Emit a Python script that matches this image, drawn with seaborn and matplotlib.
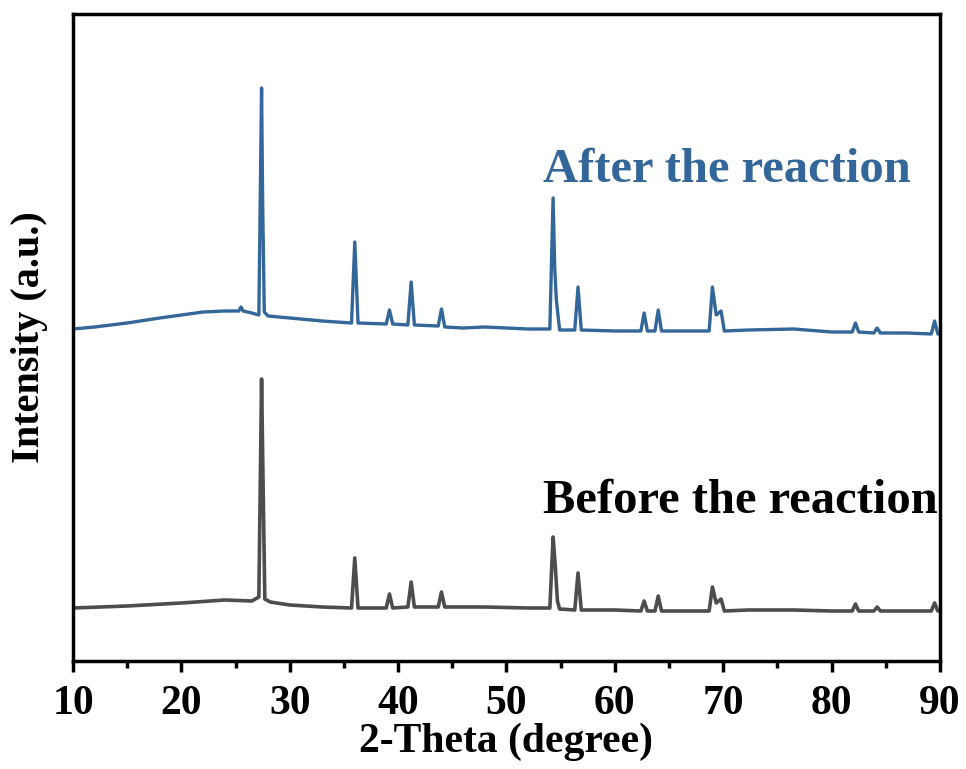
import matplotlib
matplotlib.use("Agg")
import matplotlib.pyplot as plt
import seaborn as sns
import pandas as pd
from matplotlib.ticker import MultipleLocator

# 2-theta positions (degree) and intensities (a.u.)
after_x = [10, 12, 15, 18, 20, 22, 24, 25.3, 25.5, 25.7, 26.5, 27.15, 27.4, 27.5, 27.65, 28.0,
           30, 33, 35.7, 36.0, 36.3, 38.9, 39.2, 39.5, 40.9, 41.2, 41.5, 43.7, 44.0, 44.3,
           46, 48, 50, 52, 54.0, 54.3, 54.45, 54.6, 54.9, 56.3, 56.6, 56.9, 60, 62.4, 62.7,
           63.0, 63.7, 64.0, 64.3, 66, 68.7, 69.0, 69.35, 69.8, 70.1, 72.3, 76.5, 80, 81.9,
           82.2, 82.5, 83.9, 84.2, 84.5, 87, 89.2, 89.5, 89.8, 90]
after_y = [332, 334, 338, 343, 346, 349, 350, 350, 354, 350, 348, 346, 573, 458, 349, 345,
           343, 340, 338, 419, 338, 337, 351, 337, 336, 379, 336, 335, 352, 334,
           333, 334, 333, 332, 332, 463, 393, 361, 331, 331, 374, 331, 330, 330, 348,
           330, 330, 351, 330, 330, 330, 374, 346, 350, 330, 331, 332, 329, 329,
           338, 329, 328, 333, 328, 328, 327, 340, 327, 327]

before_x = [10, 15, 20, 24, 26.5, 27.15, 27.4, 27.55, 27.7, 28.2, 30, 33, 35.7, 36.0, 36.3,
            38.9, 39.2, 39.5, 40.9, 41.2, 41.5, 43.7, 44.0, 44.3, 48, 52, 54.0, 54.3, 54.5,
            54.7, 54.9, 56.3, 56.6, 56.9, 60, 62.4, 62.7, 63.0, 63.7, 64.0, 64.3, 66, 68.7,
            69.0, 69.35, 69.8, 70.1, 72.3, 76.5, 80, 81.9, 82.2, 82.5, 83.9, 84.2, 84.5, 87,
            89.2, 89.5, 89.8, 90]
before_y = [53, 55, 58, 61, 60, 64, 282, 170, 62, 59, 56, 54, 53, 103, 53,
            53, 67, 53, 54, 79, 54, 54, 69, 54, 54, 53, 53, 124, 95,
            60, 52, 51, 88, 51, 51, 50, 60, 50, 50, 65, 50, 50, 50,
            74, 58, 62, 50, 51, 51, 50, 50, 57, 50, 50, 54, 50, 50,
            50, 58, 50, 50]

x_ticks = [10, 20, 30, 40, 50, 60, 70, 80, 90]
label_after = "After the reaction"
label_before = "Before the reaction"

BLUE = "#336699"
GRAY = "#4d4d4d"

sns.set_theme(style="white")
plt.rcParams["font.family"] = ["Liberation Serif", "DejaVu Serif"]
plt.rcParams["font.weight"] = "bold"
plt.rcParams["text.color"] = "black"
plt.rcParams["axes.labelcolor"] = "black"
plt.rcParams["xtick.color"] = "black"
plt.rcParams["xtick.labelcolor"] = "black"

fig = plt.figure(figsize=(9.66, 7.69), dpi=100)
ax = fig.add_axes([73/966, 1-661/769, (940-73)/966, (661-14)/769])

df_a = pd.DataFrame({"x": after_x, "y": after_y})
df_b = pd.DataFrame({"x": before_x, "y": before_y})
sns.lineplot(data=df_a, x="x", y="y", ax=ax, color=BLUE, lw=2.4, estimator=None, sort=False)
sns.lineplot(data=df_b, x="x", y="y", ax=ax, color=GRAY, lw=2.6, estimator=None, sort=False)

ax.set_xlim(10, 90)
ax.set_ylim(0, 647)
ax.set_xticks(x_ticks)
ax.xaxis.set_minor_locator(MultipleLocator(5))
ax.set_yticks([])
ax.tick_params(axis="x", which="major", direction="out", length=8, width=2.5,
               labelsize=30, bottom=True, pad=9, colors="black", labelcolor="black")
ax.tick_params(axis="x", which="minor", direction="out", length=5, width=2.5, bottom=True,
               colors="black")
for lab in ax.get_xticklabels():
    lab.set_fontweight("bold")
for s in ax.spines.values():
    s.set_linewidth(2.5)
    s.set_color("black")

ax.set_xlabel("2-Theta (degree)", fontsize=30, fontweight="bold", labelpad=0, color="black")
ax.set_ylabel("Intensity (a.u.)", fontsize=29, fontweight="bold", labelpad=18, color="black")

ax.text(53.4, 491, label_after, color=BLUE, fontsize=35, fontweight="bold", va="center", ha="left")
ax.text(53.4, 160, label_before, color="black", fontsize=35, fontweight="bold", va="center", ha="left")

fig.savefig("out.png", dpi=100)
